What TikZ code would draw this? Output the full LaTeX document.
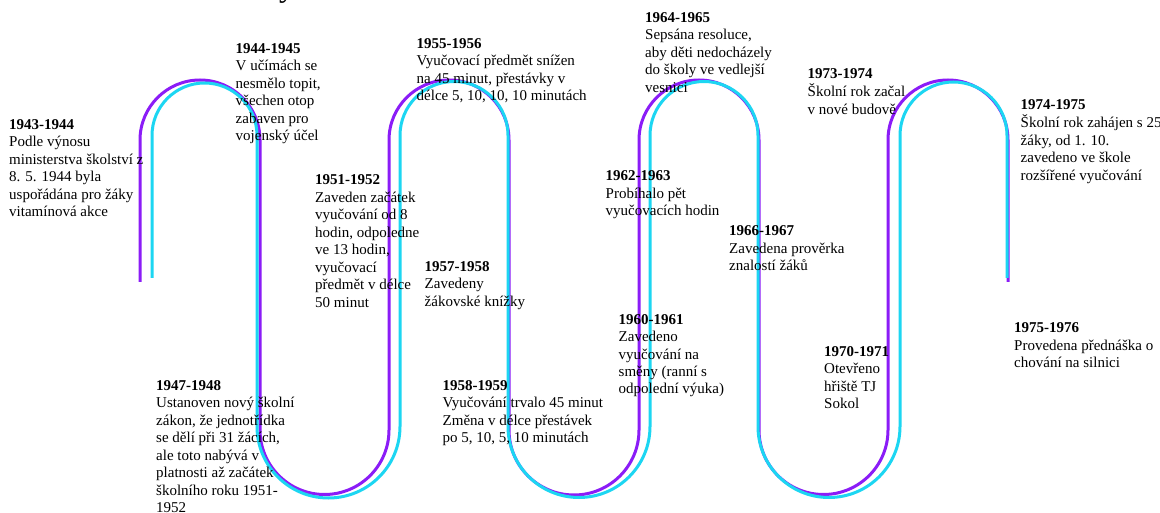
\documentclass[tikz,border=0pt]{standalone}
\usepackage{fontspec}
\setmainfont{Liberation Serif}
\definecolor{snakeviolet}{RGB}{139,28,247}
\definecolor{snakecyan}{RGB}{28,214,242}
\newcommand\yearblock[2]{\begin{tabular}[t]{@{}l@{}}\textbf{#1}\\#2\end{tabular}}
\tikzset{
  event/.style={anchor=base west, inner sep=0pt, font=\fontsize{15}{17.5}\selectfont},
  track/.style={line width=3pt, line cap=butt},
}
\begin{document}
\begin{tikzpicture}[x=1pt,y=-1pt]
\useasboundingbox[fill=white] (0,0) rectangle (1160,513);

% tail of the heading letter, cut by the top edge
\node[anchor=base west, inner sep=0pt, font=\fontsize{32}{36}\selectfont] (head) at (279,-3) {y};

% violet serpentine
\draw[track, snakeviolet] (140,282) -- (140,140)
  arc[start angle=180, end angle=360, radius=60] -- (260,430)
  arc[start angle=180, end angle=0, radius=64.5] -- (389,140)
  arc[start angle=180, end angle=360, radius=60] -- (509,430)
  arc[start angle=180, end angle=0, radius=65] -- (639,140)
  arc[start angle=180, end angle=360, radius=60] -- (759,430)
  arc[start angle=180, end angle=0, radius=64.5] -- (888,140)
  arc[start angle=180, end angle=360, radius=60] -- (1008,282);

% cyan serpentine
\draw[track, snakecyan] (152,278) -- (152,135.5)
  arc[start angle=180, end angle=360, radius=52.5] -- (257,426.5)
  arc[start angle=180, end angle=0, radius=71.5] -- (400,135.5)
  arc[start angle=180, end angle=360, radius=54] -- (508,426.5)
  arc[start angle=180, end angle=0, radius=71] -- (650,135.5)
  arc[start angle=180, end angle=360, radius=54] -- (758,426.5)
  arc[start angle=180, end angle=0, radius=71] -- (900,135.5)
  arc[start angle=180, end angle=360, radius=53.5] -- (1007,278);

% events
\node[event] (e1) at (9,129.5) {\yearblock{1943-1944}{Podle výnosu\\ministerstva školství z\\8. 5. 1944 byla\\uspořádána pro žáky\\vitamínová akce}};
\node[event] (e2) at (235.5,53.5) {\yearblock{1944-1945}{V učímách se\\nesmělo topit,\\všechen otop\\zabaven pro\\vojenský účel}};
\node[event] (e3) at (315,185) {\yearblock{1951-1952}{Zaveden začátek\\vyučování od 8\\hodin, odpoledne\\ve 13 hodin,\\vyučovací\\předmět v délce\\50 minut}};
\node[event] (e4) at (156,390) {\yearblock{1947-1948}{Ustanoven nový školní\\zákon, že jednotřídka\\se dělí při 31 žácích,\\ale toto nabývá v\\platnosti až začátek\\školního roku 1951-\\1952}};
\node[event] (e5) at (416.5,48.5) {\yearblock{1955-1956}{Vyučovací předmět snížen\\na 45 minut, přestávky v\\délce 5, 10, 10, 10 minutách}};
\node[event] (e6) at (424.5,271.5) {\yearblock{1957-1958}{Zavedeny\\žákovské knížky}};
\node[event] (e7) at (442.5,390) {\yearblock{1958-1959}{Vyučování trvalo 45 minut\\Změna v délce přestávek\\po 5, 10, 5, 10 minutách}};
\node[event] (e8) at (618.5,324) {\yearblock{1960-1961}{Zavedeno\\vyučování na\\směny (ranní s\\odpolední výuka)}};
\node[event] (e9) at (605.5,181) {\yearblock{1962-1963}{Probíhalo pět\\vyučovacích hodin}};
\node[event] (e10) at (645,22.5) {\yearblock{1964-1965}{Sepsána resoluce,\\aby děti nedocházely\\do školy ve vedlejší\\vesnici}};
\node[event] (e11) at (729,236) {\yearblock{1966-1967}{Zavedena prověrka\\znalostí žáků}};
\node[event] (e12) at (824,356) {\yearblock{1970-1971}{Otevřeno\\hřiště TJ\\Sokol}};
\node[event] (e13) at (807.5,78.5) {\yearblock{1973-1974}{Školní rok začal\\v nové budově}};
\node[event] (e14) at (1020.5,109.5) {\yearblock{1974-1975}{Školní rok zahájen s 25\\žáky, od 1. 10.\\zavedeno ve škole\\rozšířené vyučování}};
\node[event] (e15) at (1014,332.5) {\yearblock{1975-1976}{Provedena přednáška o\\chování na silnici}};
\end{tikzpicture}
\end{document}
